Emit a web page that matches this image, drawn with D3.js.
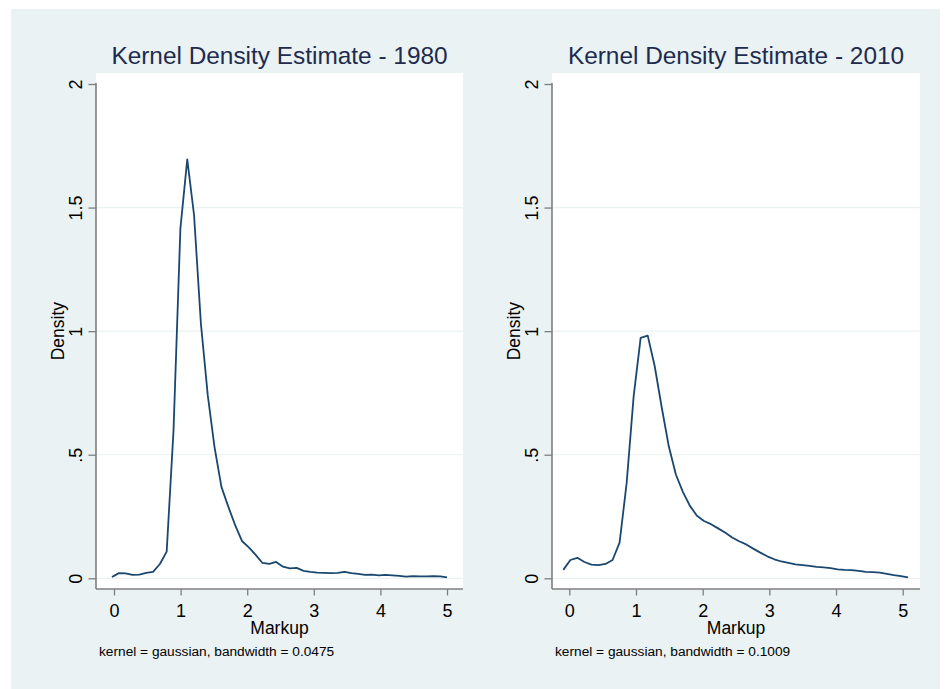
<!DOCTYPE html>
<html><head><meta charset="utf-8">
<script src="https://cdn.jsdelivr.net/npm/d3@7/dist/d3.min.js"></script>
<style>html,body{margin:0;padding:0;background:#fff;}svg{display:block;}</style>
</head><body><svg id="c" width="945" height="689"></svg>
<script>
const titles = ["Kernel Density Estimate - 1980", "Kernel Density Estimate - 2010"];
const notes = ["kernel = gaussian, bandwidth = 0.0475", "kernel = gaussian, bandwidth = 0.1009"];
const xTicks = [0, 1, 2, 3, 4, 5];
const yTicks = [0, 0.5, 1, 1.5, 2];
const yTickLabels = ["0", ".5", "1", "1.5", "2"];
const yGrid = [0, 0.5, 1, 1.5];
const xLabel = "Markup";
const yLabel = "Density";

const x1980 = [-0.03,0.073,0.175,0.278,0.381,0.483,0.586,0.689,0.791,0.894,0.997,1.1,1.202,1.305,1.408,1.51,1.613,1.716,1.819,1.921,2.024,2.127,2.229,2.332,2.435,2.537,2.64,2.743,2.846,2.948,3.051,3.154,3.256,3.359,3.462,3.564,3.667,3.77,3.872,3.975,4.078,4.18,4.283,4.386,4.488,4.591,4.694,4.796,4.899,5.0];
const d1980 = [0.005,0.021,0.02,0.014,0.015,0.022,0.026,0.058,0.108,0.6,1.416,1.695,1.47,1.03,0.74,0.53,0.37,0.29,0.215,0.151,0.125,0.095,0.062,0.058,0.066,0.047,0.04,0.042,0.03,0.026,0.023,0.022,0.021,0.022,0.026,0.021,0.018,0.014,0.015,0.012,0.014,0.012,0.01,0.007,0.009,0.008,0.008,0.009,0.008,0.004];
const x2010 = [-0.09,0.016,0.121,0.227,0.332,0.438,0.543,0.649,0.754,0.86,0.965,1.07,1.176,1.281,1.387,1.492,1.598,1.703,1.809,1.914,2.02,2.125,2.231,2.336,2.442,2.547,2.653,2.758,2.864,2.969,3.075,3.18,3.286,3.391,3.497,3.602,3.708,3.813,3.919,4.024,4.13,4.235,4.341,4.446,4.552,4.657,4.763,4.868,4.974,5.079];
const d2010 = [0.034,0.074,0.083,0.066,0.055,0.053,0.058,0.074,0.144,0.385,0.736,0.973,0.982,0.858,0.69,0.534,0.42,0.35,0.293,0.253,0.232,0.219,0.202,0.185,0.165,0.15,0.137,0.12,0.104,0.089,0.077,0.068,0.062,0.056,0.053,0.05,0.046,0.044,0.041,0.036,0.034,0.033,0.03,0.026,0.025,0.023,0.018,0.013,0.009,0.004];

const series = [
  {xs: x1980, ys: d1980},
  {xs: x2010, ys: d2010}
];

const FONT = "'Liberation Sans', Arial, sans-serif";
const svg = d3.select("#c");
svg.append("rect").attr("x", 11).attr("y", 9).attr("width", 929).attr("height", 680).attr("fill", "#eaf2f3");

const panels = [
  {px0: 96, px1: 463, xr: [114, 447]},
  {px0: 552, px1: 920, xr: [569.3, 902.7]}
];
const py0 = 73, py1 = 589;

panels.forEach((p, i) => {
  const g = svg.append("g");
  const x = d3.scaleLinear().domain([0, 5]).range(p.xr);
  const y = d3.scaleLinear().domain([0, 2]).range([578.3, 84]);

  g.append("rect").attr("x", p.px0).attr("y", py0).attr("width", p.px1 - p.px0).attr("height", py1 - py0).attr("fill", "#fff");

  g.selectAll("line.grid").data(yGrid).join("line").attr("class", "grid")
    .attr("x1", p.px0).attr("x2", p.px1).attr("y1", d => y(d)).attr("y2", d => y(d))
    .attr("stroke", "#eaf2f3").attr("stroke-width", 1.2);

  // y axis
  const ya = g.append("g").attr("transform", `translate(${p.px0},0)`)
    .call(d3.axisLeft(y).tickValues(yTicks).tickFormat((d, k) => yTickLabels[k]).tickSize(7.5).tickPadding(0));
  ya.select(".domain").remove();
  ya.append("line").attr("x1", 0).attr("x2", 0).attr("y1", y(2) - 1).attr("y2", py1).attr("stroke", "#7f7f7f").attr("stroke-width", 1.6);
  ya.selectAll(".tick line").attr("stroke", "#7f7f7f").attr("stroke-width", 1.3);
  ya.selectAll(".tick text").attr("x", null).attr("dy", null)
    .attr("transform", "translate(-14,0) rotate(-90)")
    .attr("text-anchor", "middle").attr("font-family", FONT).attr("font-size", 18).attr("fill", "#000");

  // x axis
  const xa = g.append("g").attr("transform", `translate(0,${py1})`)
    .call(d3.axisBottom(x).tickValues(xTicks).tickFormat(d3.format("d")).tickSize(6.5).tickPadding(4));
  xa.select(".domain").remove();
  xa.append("line").attr("x1", p.px0).attr("x2", p.px1).attr("y1", 0).attr("y2", 0).attr("stroke", "#7f7f7f").attr("stroke-width", 1.6);
  xa.selectAll(".tick line").attr("stroke", "#7f7f7f").attr("stroke-width", 1.3);
  xa.selectAll(".tick text").attr("dy", null).attr("y", 28)
    .attr("font-family", FONT).attr("font-size", 18).attr("fill", "#000");

  const cx = (p.px0 + p.px1) / 2;
  g.append("text").attr("x", cx).attr("y", 64).attr("text-anchor", "middle")
    .attr("font-family", FONT).attr("font-size", 24.4).attr("fill", "#1e2b4f").text(titles[i]);
  g.append("text").attr("x", cx).attr("y", 634).attr("text-anchor", "middle")
    .attr("font-family", FONT).attr("font-size", 17.5).attr("fill", "#000").text(xLabel);
  g.append("text").attr("transform", `translate(${p.px0 - 32},${y(1)}) rotate(-90)`).attr("text-anchor", "middle")
    .attr("font-family", FONT).attr("font-size", 17.5).attr("fill", "#000").text(yLabel);
  g.append("text").attr("x", p.px0 + 3).attr("y", 655.5)
    .attr("font-family", FONT).attr("font-size", 13.7).attr("fill", "#000").text(notes[i]);

  const s = series[i];
  const pts = s.xs.map((v, k) => [v, s.ys[k]]);
  g.append("path").datum(pts)
    .attr("d", d3.line().x(d => x(d[0])).y(d => y(d[1])))
    .attr("fill", "none").attr("stroke", "#1a476f").attr("stroke-width", 1.8).attr("stroke-linejoin", "round");
});
</script></body></html>
